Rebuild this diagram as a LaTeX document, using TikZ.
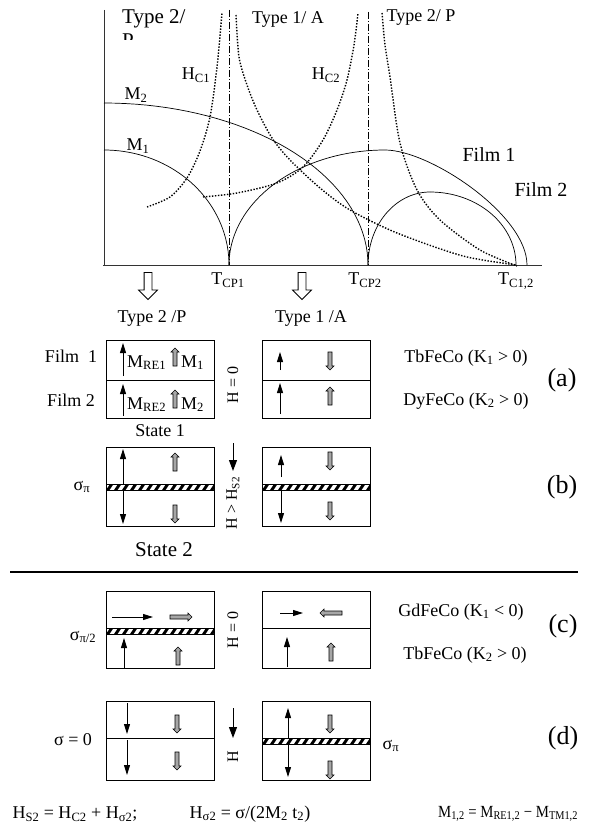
\documentclass[tikz,border=0pt]{standalone}
\usepackage{fontspec}
\setmainfont{Liberation Serif}
\usetikzlibrary{arrows.meta, shapes.arrows, positioning}

\newcommand{\lw}[1]{\textsubscript{#1}}
% domain wall band: left x, top y
\newcommand{\wallband}[2]{%
  \begin{scope}
    \clip (#1,#2) rectangle ++(108,6);
    \fill[white] (#1,#2) rectangle ++(108,6);
    \foreach \s in {0,8,...,112}
      \fill (#1+\s,#2+6) -- ++(3.5,0) -- ++(4,-6) -- ++(-3.5,0) -- cycle;
  \end{scope}
  \draw[layer] (#1,#2) rectangle ++(108,6);}

\tikzset{
  layer/.style={draw, line width=0.8pt},
  thinarr/.style={line width=0.9pt, -{Triangle[length=10pt,width=6pt]}},
  fieldarr/.style={line width=1pt, -{Triangle[length=11pt,width=8pt]}},
  grayarr/.style={single arrow, draw, fill=black!35, line width=0.6pt,
    inner sep=1.7pt, minimum height=18pt, single arrow head extend=2pt,
    single arrow head indent=0pt},
  hollowarr/.style={single arrow, draw, fill=white, line width=0.8pt,
    inner sep=3.5pt, minimum height=27pt, single arrow head extend=5.5pt},
  dotcurve/.style={line width=1.4pt, dash pattern=on 1.4pt off 1.6pt},
  magcurve/.style={line width=0.7pt},
  dashdot/.style={line width=0.6pt, dash pattern=on 7pt off 2pt on 1pt off 2pt},
  lbl/.style={font=\fontsize{18}{21}\selectfont, inner sep=0pt},
  smalllbl/.style={font=\fontsize{16}{19}\selectfont, inner sep=0pt},
  caselbl/.style={font=\fontsize{26}{30}\selectfont, inner sep=0pt},
  eqlbl/.style={font=\fontsize{18}{21}\selectfont, inner sep=0pt},
}

\begin{document}
\begin{tikzpicture}[x=1pt, y=-1pt]
\useasboundingbox (0,0) rectangle (612,834);

% ---- phase diagram
\draw[black!80, line width=0.8pt] (104,10) -- (104,265);
\draw[black!80, line width=0.8pt] (103,265) -- (542,265);
\draw[dashdot] (229,10) -- (229,265);
\draw[dashdot] (368,12) -- (368,265);

\draw[magcurve] plot[domain=0:90, samples=40] ({104+264*sin(\x)}, {265-162*cos(\x)});
\draw[magcurve] plot[domain=0:90, samples=40] ({104+125*sin(\x)}, {265-115*cos(\x)});
\draw[magcurve] plot[domain=0:90, samples=40] ({385-156*cos(\x)}, {265-115*sin(\x)})
  .. controls (430,150) and (527,215) .. (527,265);
\draw[magcurve] plot[domain=0:90, samples=40] ({430-62*cos(\x)}, {265-73*sin(\x)});
\draw[magcurve] plot[domain=0:90, samples=40] ({430+86*sin(\x)}, {265-73*cos(\x)});

\draw[dotcurve] plot[smooth] coordinates {(147,207) (170,197) (187,178) (200,151)
  (210,117) (217,67) (222,13)};
\draw[dotcurve] plot[smooth] coordinates {(236,15) (239,57) (247,85) (257,110)
  (272,138) (290,160) (320,188) (350,210) (397,233) (463,256) (517,265)};
\draw[dotcurve] plot[smooth] coordinates {(203,197) (237,193) (277,183) (303,167)
  (323,140) (337,110) (347,80) (354,45) (358,13)};
\draw[dotcurve] plot[smooth] coordinates {(382,13) (385,45) (390,77) (400,143)
  (417,190) (440,220) (480,250) (517,266)};

\begin{scope}
  \clip (110,0) rectangle (200,40);
  \node[lbl, font=\fontsize{21}{24}\selectfont, align=left, anchor=north west]
    (typetwo) at (122,9) {Type 2/\\P};
\end{scope}
\node[lbl] (typeone) at (288,20) {Type 1/ A};
\node[lbl] (typetwop) at (421,17) {Type 2/ P};
\node[lbl] (hcone) at (196,75) {H\lw{C1}};
\node[lbl] (hctwo) at (326,75) {H\lw{C2}};
\node[lbl] (mtwo) at (136,95) {M\lw{2}};
\node[lbl] (mone) at (138,146) {M\lw{1}};
\node[lbl, font=\fontsize{20}{23}\selectfont] (filmone) at (489,155) {Film 1};
\node[lbl, font=\fontsize{20}{23}\selectfont] (filmtwo) at (541,190) {Film 2};
\node[lbl] (tcpone) at (228,280) {T\lw{CP1}};
\node[lbl] (tcptwo) at (365,280) {T\lw{CP2}};
\node[lbl] (tcot) at (516,281) {T\lw{C1,2}};

\node[hollowarr, rotate=-90] (downp) at (148,284) {};
\node[hollowarr, rotate=-90] (downa) at (302,284) {};
\node[lbl] (typetwobelow) at (152,318) {Type 2 /P};
\node[lbl] (typeonebelow) at (311,318) {Type 1 /A};

% ---- (a)
\draw[layer] (106,340) rectangle (214,418);
\draw[layer] (106,380) -- (214,380);
\draw[layer] (262,340) rectangle (370,418);
\draw[layer] (262,380) -- (370,380);
\draw[thinarr] (123,376) -- (123,343);
\draw[thinarr] (123,416) -- (123,384);
\node[lbl, anchor=base west] (mreone) at (127,367) {M\lw{RE1}};
\node[grayarr, rotate=90] (gaone) at (175,358) {};
\node[lbl, anchor=base west] (mmone) at (181,367) {M\lw{1}};
\node[lbl, anchor=base west] (mretwo) at (127,409) {M\lw{RE2}};
\node[grayarr, rotate=90] (gatwo) at (175,400) {};
\node[lbl, anchor=base west] (mmtwo) at (181,409) {M\lw{2}};
\draw[thinarr] (280,370) -- (280,352);
\draw[thinarr] (280,414) -- (280,383);
\node[grayarr, rotate=-90] (gathree) at (330,360) {};
\node[grayarr, rotate=90] (gafour) at (330,397) {};
\node[smalllbl, rotate=90] (hzeroa) at (233,385) {H = 0};
\node[lbl] (filmonelbl) at (71,356) {Film~ 1};
\node[lbl] (filmtwolbl) at (71,400) {Film 2};
\node[lbl] (stateone) at (160,431) {State 1};
\node[lbl] (tbfeco) at (466,358) {TbFeCo (K\lw{1} > 0)};
\node[lbl] (dyfeco) at (466,401) {DyFeCo (K\lw{2} > 0)};
\node[caselbl] (casea) at (562,380) {(a)};

% ---- (b)
\draw[layer] (106,447) rectangle (214,526);
\wallband{106}{484}
\draw[layer] (262,447) rectangle (370,526);
\wallband{262}{484}
\draw[thinarr] (123,484) -- (123,449);
\draw[thinarr] (123,490) -- (123,524);
\node[grayarr, rotate=90] (gafive) at (175,463) {};
\node[grayarr, rotate=-90] (gasix) at (175,513) {};
\draw[thinarr] (281,477) -- (281,455);
\draw[thinarr] (281,490) -- (281,523);
\node[grayarr, rotate=-90] (gaseven) at (330,460) {};
\node[grayarr, rotate=-90] (gaeight) at (330,510) {};
\coordinate (hbtop) at (233,443);
\coordinate (hbend) at (233,471);
\draw[fieldarr] (hbtop) -- (hbend);
\node[smalllbl, rotate=90] (hsb) at (233,503) {H > H\lw{S2}};
\node[lbl] (sigpi) at (82,487) {σ\lw{π}};
\node[lbl, font=\fontsize{21}{24}\selectfont] (statetwo) at (164,550) {State 2};
\node[caselbl] (caseb) at (562,487) {(b)};

\draw[line width=1.1pt] (10,572) -- (578,572);

% ---- (c)
\draw[layer] (106,591) rectangle (214,668);
\wallband{106}{628}
\draw[layer] (262,591) rectangle (370,668);
\draw[layer] (262,628) -- (370,628);
\draw[thinarr] (112,617) -- (153,617);
\node[grayarr, minimum height=22pt] (ganine) at (180,617) {};
\draw[thinarr] (124,668) -- (124,638);
\node[grayarr, rotate=90] (gaten) at (178,657) {};
\draw[thinarr] (280,613) -- (303,613);
\node[grayarr, minimum height=22pt, rotate=180] (gaeleven) at (332,613) {};
\draw[thinarr] (287,667) -- (287,637);
\node[grayarr, rotate=90] (gatwelve) at (331,653) {};
\node[smalllbl, rotate=90] (hzeroc) at (233,630) {H = 0};
\node[lbl] (sigpihalf) at (83,637) {σ\lw{π/2}};
\node[lbl] (gdfeco) at (461,612) {GdFeCo (K\lw{1} < 0)};
\node[lbl] (tbfecoc) at (465,655) {TbFeCo (K\lw{2} > 0)};
\node[caselbl] (casec) at (563,626) {(c)};

% ---- (d)
\draw[layer] (106,701) rectangle (214,780);
\draw[layer] (106,738) -- (214,738);
\draw[layer] (262,701) rectangle (370,780);
\wallband{262}{738}
\draw[thinarr] (127,703) -- (127,734);
\draw[thinarr] (127,740) -- (127,775);
\node[grayarr, rotate=-90] (gathirteen) at (177,723) {};
\node[grayarr, rotate=-90] (gafourteen) at (177,760) {};
\draw[thinarr] (288,738) -- (288,708);
\draw[thinarr] (288,744) -- (288,777);
\node[grayarr, rotate=-90] (gafifteen) at (330,723) {};
\node[grayarr, rotate=-90] (gasixteen) at (330,769) {};
\coordinate (hdtop) at (233,708);
\coordinate (hdend) at (233,738);
\draw[fieldarr] (hdtop) -- (hdend);
\node[smalllbl, rotate=90] (hd) at (233,757) {H};
\node[lbl] (sigzero) at (73,740) {σ = 0};
\node[lbl] (sigpid) at (391,746) {σ\lw{π}};
\node[caselbl] (cased) at (563,738) {(d)};

% ---- relations
\node[eqlbl] (eqhs) at (75,814) {H\lw{S2} = H\lw{C2} + H\lw{σ2};};
\node[eqlbl] (eqhsig) at (250,814) {H\lw{σ2} = σ/(2M\lw{2} t\lw{2})};
\node[eqlbl, font=\fontsize{17}{20}\selectfont] (eqm) at (508,814)
  {\scalebox{0.87}[1]{M\lw{1,2} = M\lw{RE1,2} − M\lw{TM1,2}}};
\end{tikzpicture}
\end{document}
